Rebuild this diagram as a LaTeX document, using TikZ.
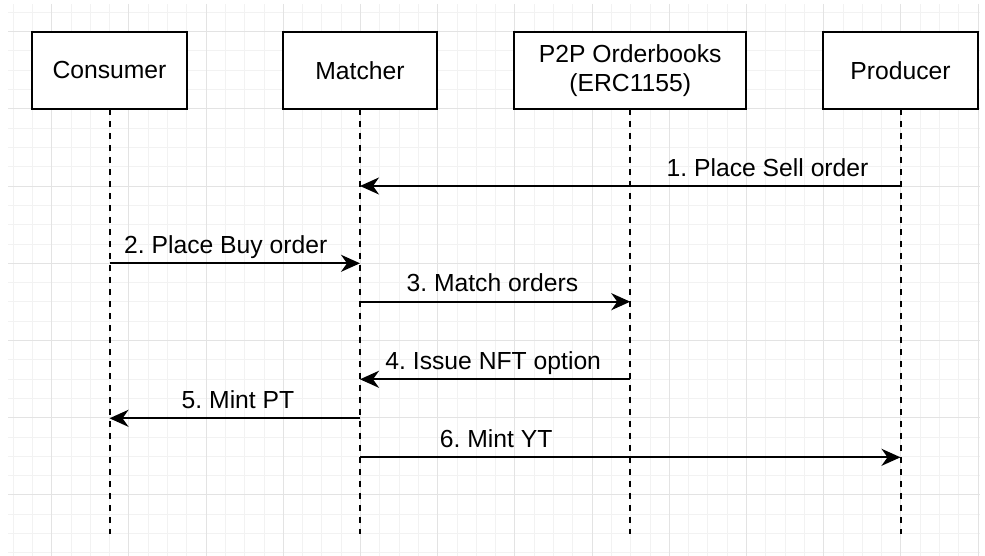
\documentclass[tikz,border=0pt]{standalone}
\usepackage{fontspec}
\setmainfont{Liberation Sans}
\usetikzlibrary{arrows.meta, positioning, calc}
\definecolor{inkcolor}{HTML}{000000}
\definecolor{gridminor}{HTML}{F2F2F2}
\definecolor{gridmajor}{HTML}{E3E3E3}

\begin{document}
\frenchspacing
\begin{tikzpicture}[
  x=1pt, y=-1pt,
  every node/.style={font=\fontsize{24.7}{29}\selectfont},
  align=center,
]

\tikzset{
  actor/.style={rectangle, draw=inkcolor, line width=2.2pt, fill=white, outer sep=0pt,
    minimum width=154.5pt, minimum height=77.3pt, inner sep=2pt},
  lifeline/.style={inkcolor, line width=2pt, dash pattern=on 6pt off 6pt},
  msgline/.style={-{Stealth[length=19pt, width=17pt, inset=6pt]}, inkcolor, line width=2.2pt},
  msglabel/.style={anchor=base, yshift=9.8pt, inner sep=0pt},
}

\useasboundingbox (0,0) rectangle (985,556);

% ---------------------------------------------------------------
% Background grid
% ---------------------------------------------------------------
\foreach \i in {-2,...,48}
  \draw[gridminor, line width=1pt] ({51.7+19.3*\i},4) -- ({51.7+19.3*\i},556);
\foreach \j in {-1,...,27}
  \draw[gridminor, line width=1pt] (8,{31.7+19.3*\j}) -- (980,{31.7+19.3*\j});
\foreach \i in {0,4,...,48}
  \draw[gridmajor, line width=1pt] ({51.7+19.3*\i},4) -- ({51.7+19.3*\i},556);
\foreach \j in {0,4,...,24}
  \draw[gridmajor, line width=1pt] (8,{31.7+19.3*\j}) -- (980,{31.7+19.3*\j});

% ---------------------------------------------------------------
% Participants
% ---------------------------------------------------------------
\node[actor]                                  (consumer) at (109.5,70.3) {Consumer};
\node[actor, right=96pt of consumer]          (matcher)  {Matcher};
\node[actor, minimum width=232pt,
      right=77pt of matcher]                  (orderbook) {P2P Orderbooks\\(ERC1155)};
\node[actor, right=77pt of orderbook]         (producer) {Producer};

% Lifelines
\coordinate (bottom) at (0,534);
\foreach \p in {consumer, matcher, orderbook, producer}
  \draw[lifeline] (\p.south) -- (\p |- bottom);

% ---------------------------------------------------------------
% Messages
% ---------------------------------------------------------------
\coordinate (m1) at (0,186);
\coordinate (m2) at (0,263.3);
\coordinate (m3) at (0,301.7);
\coordinate (m4) at (0,379.3);
\coordinate (m5) at (0,418.3);
\coordinate (m6) at (0,457.3);

\draw[msgline] (producer |- m1) -- node[msglabel, pos=0.246]{1. Place Sell order} (matcher |- m1);
\draw[msgline] (consumer |- m2) -- node[msglabel, pos=0.464]{2. Place Buy order} (matcher |- m2);
\draw[msgline] (matcher |- m3) -- node[msglabel, pos=0.49]{3. Match orders} (orderbook |- m3);
\draw[msgline] (orderbook |- m4) -- node[msglabel, pos=0.507]{4. Issue NFT option} (matcher |- m4);
\draw[msgline] (matcher |- m5) -- node[msglabel, pos=0.487]{5. Mint PT} (consumer |- m5);
\draw[msgline] (matcher |- m6) -- node[msglabel, pos=0.252]{6. Mint YT} (producer |- m6);

\end{tikzpicture}
\end{document}
